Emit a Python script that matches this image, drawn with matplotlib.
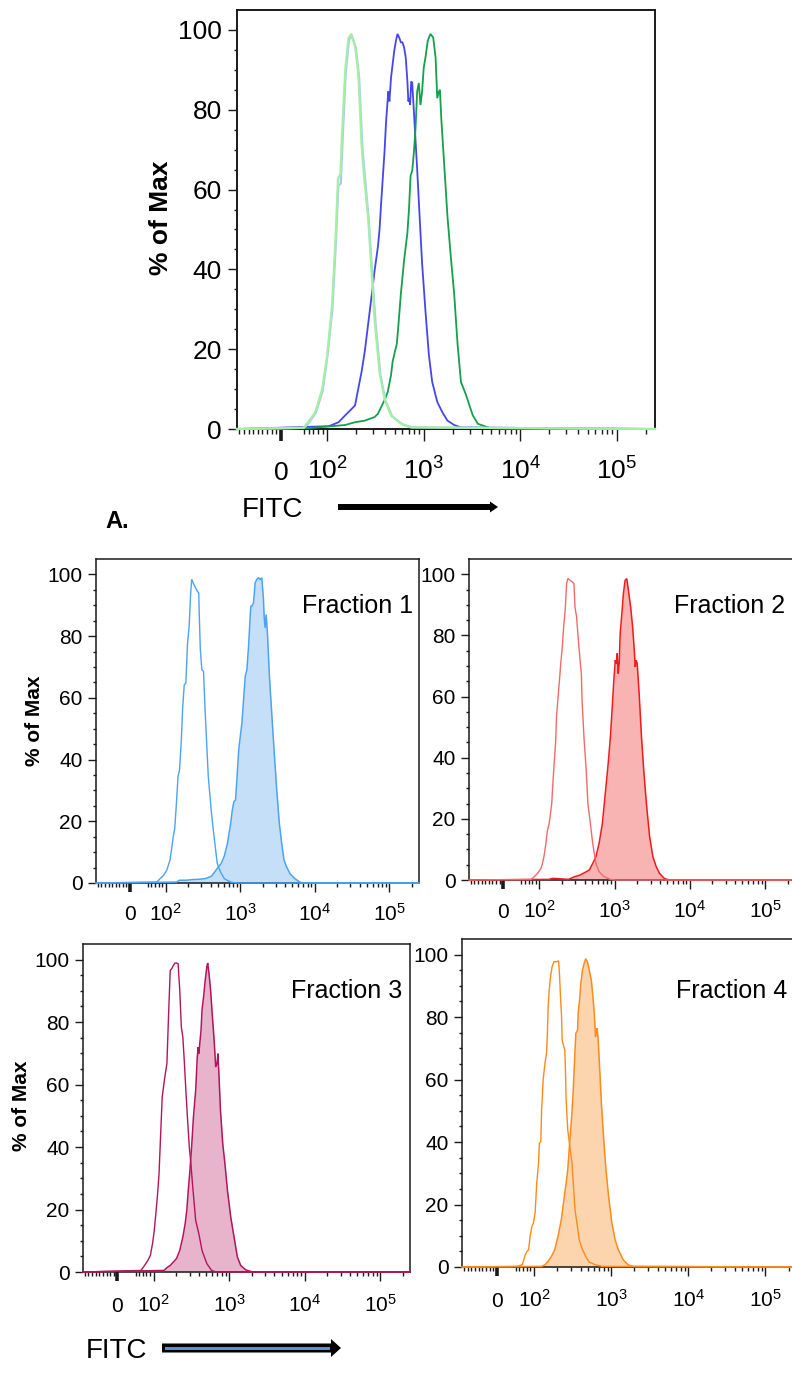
import numpy as np
import matplotlib
matplotlib.use("Agg")
import matplotlib.pyplot as plt
from matplotlib.patches import FancyArrow, Rectangle

W, H = 792, 1378
plt.rcParams["font.family"] = ["Liberation Sans", "DejaVu Sans"]
plt.rcParams["mathtext.default"] = "regular"

# ---------------------------------------------------------------- axis setup
XMIN, XMAX = -95, 2.5e5
X_MAJOR = [0, 1e2, 1e3, 1e4, 1e5]
X_LABELS = ["0", r"$10^2$", r"$10^3$", r"$10^4$", r"$10^5$"]
X_MINOR = ([-v for v in range(10, 100, 10)] + list(range(50, 100, 10))
           + [k * 10 ** e for e in (2, 3, 4) for k in range(2, 10)] + [2e5])
Y_MAJOR = [0, 20, 40, 60, 80, 100]
Y_MINOR = list(range(0, 105, 5))

# ---------------------------------------------------------------- data (FITC, % of Max)
# top panel
top_blue_x = [104, 131, 153, 180, 194, 210, 227, 245, 265, 287, 310, 335, 348, 362, 392, 407,
              424, 430, 441, 458, 476, 495, 515, 535, 557, 579, 602, 626, 651, 677, 693, 710,
              721, 743, 760, 791, 855, 910, 962, 1042, 1130, 1224, 1381, 1560, 1762, 2070, 2432]
top_blue_y = [0.7, 1.7, 3.4, 5.1, 5.9, 10.2, 14.4, 19.5, 26.2, 33, 39.8, 45.7, 49.9, 56.7, 69.4, 77,
              82.9, 84.6, 82.1, 88, 91.4, 94.8, 97.3, 99, 98.1, 96.9, 96.9, 95.6, 93.1, 87.1, 82.1, 82.9,
              81.2, 87.1, 86.7, 79.5, 65.1, 52.5, 41.5, 29.6, 18.6, 11.8, 6.8, 4.2, 2.1, 1.0, 0.4]

top_green_x = [59, 153, 194, 245, 310, 335, 362, 392, 424, 458, 476, 504, 525, 544, 579, 626,
               677, 703, 731, 760, 791, 822, 855, 889, 925, 962, 1000, 1042, 1101, 1175, 1254, 1327,
               1381, 1439, 1472, 1521, 1625, 1762, 1910, 2070, 2244, 2432, 2748, 2979, 3228, 3641,
               4645, 5035]
top_green_y = [0.2, 1.0, 1.7, 2.1, 3.0, 3.8, 5.5, 7.2, 9.3, 13.5, 16.9, 19.5, 21.2, 25.4, 33.8, 42.3,
               49.1, 55, 63.5, 64.7, 69.4, 75.3, 84.6, 86.7, 81.2, 84.6, 90.5, 93.1, 97.3, 99, 98.1, 93.1,
               82.9, 84.6, 85, 77.8, 66.8, 53.3, 43.1, 33.8, 21.2, 11.8, 8.5, 5.9, 3.4, 1.3,
               0.4, 0.2]

top_lblue_x = [50, 60, 75, 90, 100, 113, 123, 130, 138, 144, 155, 168, 180, 198, 214, 232, 248,
               270, 292, 318, 356, 400, 470, 600, 760]
top_lblue_y = [0.3, 1.5, 4.0, 9.5, 18, 30, 47, 61, 61.5, 72, 89, 97.5, 98.5, 95.5, 88, 70, 62,
               52, 39, 26, 13.5, 7.2, 3.2, 1.2, 0.4]

top_lgreen_x = [48, 59, 74, 89, 100, 112, 122, 129, 137, 142, 154, 166, 177, 194, 210, 227, 242,
                265, 287, 310, 349, 392, 458, 579, 731]
top_lgreen_y = [0.3, 1.7, 4.2, 10, 18.6, 31, 48, 62.6, 64, 73.6, 90.5, 98, 99, 96, 89, 71, 62.6,
                53, 40, 27, 14, 7.6, 3.4, 1.3, 0.4]

# Fraction 1
f1_open_x = [75, 84, 94, 103, 114, 119, 126, 132, 139, 146, 153, 161, 169, 177, 186, 196, 206, 216,
             223, 239, 264, 277, 282, 291, 305, 321, 337, 354, 372, 411, 445, 491, 542, 610, 743, 906]
f1_open_y = [0.3, 1.4, 2.5, 4.1, 7.4, 10.6, 15, 17.7, 25.8, 34.5, 36.6, 45.3, 57.2, 64.2, 64.8, 77.8,
             83.2, 94, 98.4, 96.7, 94.6, 94, 86.5, 75.6, 69.1, 68.6, 56.1, 45.3, 34.5, 22.5, 15, 6.3,
             3.6, 1.4, 0.3, 0]
f1_fill_x = [139, 153, 186, 227, 277, 337, 411, 454, 501, 553, 610, 673, 743, 781, 820, 863, 906,
             952, 1000, 1052, 1107, 1166, 1227, 1291, 1359, 1387, 1431, 1506, 1585, 1668, 1755, 1849,
             1945, 2046, 2089, 2153, 2223, 2312, 2460, 2642, 2838, 3083, 3342, 3597, 3864, 4188,
             4645, 5408, 6310, 6982]
f1_fill_y = [0.3, 0.9, 0.9, 1.1, 1.2, 1.4, 2.2, 3.6, 5.0, 6.3, 8.7, 12.8, 19.3, 23.6, 26.3, 26.9,
             34.5, 43.1, 47.5, 51.8, 59.4, 67, 69.1, 76.7, 86.5, 89.7, 89.7, 90.8, 97.3, 98.4, 98.9,
             98.4, 98.9, 91.9, 86.5, 82.7, 87, 81, 67, 55, 43.1, 30.1, 19.3, 12.8, 7.4, 5.2, 3.0,
             1.4, 0.3, 0]

# Fraction 2
f2_open_x = [77, 86, 95, 105, 110, 116, 122, 128, 135, 146, 151, 157, 164, 169, 177, 185, 192, 200,
             210, 220, 230, 239, 256, 274, 288, 297, 312, 327, 344, 361, 369, 391, 419, 441, 476, 511,
             564, 622, 721, 879, 1020]
f2_open_y = [0.2, 1.1, 2.2, 3.8, 5.4, 8.2, 12, 16.3, 18.5, 25.1, 31.6, 38.1, 44.7, 53.4, 59.9, 65.4,
             70.8, 75.2, 82.8, 88.2, 96.9, 98.6, 98, 97.5, 96.9, 89.3, 86.1, 79.5, 73, 67.5, 58.8,
             46.8, 35.9, 25.1, 18.5, 12, 5.4, 2.7, 1.1, 0.2, 0]
f2_fill_x = [135, 148, 164, 243, 297, 344, 399, 462, 511, 564, 622, 687, 759, 821, 879, 925, 970,
             1020, 1051, 1083, 1116, 1150, 1185, 1247, 1309, 1377, 1449, 1524, 1633, 1734, 1824, 1879,
             1936, 1995, 2118, 2275, 2438, 2642, 2917, 3228, 3565, 3945, 4581, 5321]
f2_fill_y = [0.2, 0.5, 0.5, 0.2, 1.1, 1.6, 2.4, 3.3, 5.4, 7.6, 12, 18.5, 29.4, 38.1, 46.8, 55.6,
             64.3, 71.9, 70.8, 74.1, 67.5, 70.8, 80.6, 87.1, 93.7, 98, 98.6, 94.8, 89.3, 82.8, 75.2,
             69.7, 71.9, 70.8, 61, 46.8, 35.9, 25.1, 14.2, 7.6, 4.4, 2.2, 0.5, 0]

# Fraction 3
f3_open_x = [65, 75, 84, 91, 97, 102, 107, 112, 118, 124, 130, 137, 143, 150, 158, 166, 174, 183,
             192, 201, 211, 222, 233, 244, 256, 269, 282, 297, 312, 327, 361, 397, 438, 507, 586, 678]
f3_open_y = [0.5, 2.1, 3.7, 5.3, 9.1, 13.3, 18.7, 24, 31.5, 44.3, 56, 60.3, 63.5, 66.7, 82.7, 96.6,
             97.1, 98.2, 98.9, 98.9, 98.7, 90.2, 78.4, 75.2, 66.7, 57.1, 48.6, 40, 34.7, 28.3, 16.5,
             12.3, 6.9, 2.7, 0.5, 0]
f3_fill_x = [137, 150, 166, 183, 201, 222, 244, 262, 275, 288, 303, 321, 337, 361, 379, 390, 397,
             409, 425, 438, 459, 483, 507, 521, 542, 569, 597, 634, 665, 692, 711, 733, 769, 824, 881,
             952, 1052, 1164, 1288, 1426, 1660, 2032]
f3_fill_y = [0.5, 1.4, 2.1, 3.2, 4.3, 6.9, 11.2, 15.5, 19.7, 26.1, 32.6, 41.1, 49.6, 58.2, 68.8, 72,
             69.9, 73.1, 77.4, 83.8, 88, 93.4, 97.7, 98.9, 95.5, 90.2, 82.7, 74.2, 65.6, 66.7, 69.9,
             63.5, 51.8, 41.1, 34.7, 26.1, 17.6, 11.2, 4.8, 2.1, 0.7, 0]

# Fraction 4
f4_open_x = [54, 68, 72, 76, 81, 85, 89, 94, 98, 103, 108, 114, 117, 122, 125, 129, 131, 138, 145,
             149, 152, 157, 163, 171, 181, 194, 208, 214, 220, 227, 231, 243, 250, 255, 260, 273, 287,
             310, 339, 359, 385, 424, 467, 515, 626, 760]
f4_open_y = [0.2, 0.7, 2.3, 3.9, 5, 5.5, 9.8, 13, 14.1, 17.3, 26.8, 33.2, 39.6, 40.1, 50.3, 56.7,
             59.9, 65.2, 68.4, 75.8, 83.3, 88.6, 92.9, 96.1, 97.7, 97.7, 98, 92.9, 86.5, 80.1, 72.6,
             70.5, 69.4, 63, 53.5, 43.9, 39.6, 33.2, 18.3, 14.1, 8.7, 5.5, 3.4, 1.6, 0.7, 0.2]
f4_fill_x = [125, 138, 152, 168, 185, 204, 225, 240, 260, 273, 287, 307, 322, 339, 348, 366, 373,
             392, 404, 424, 445, 467, 491, 515, 552, 579, 603, 626, 644, 658, 677, 703, 746, 800, 855,
             925, 1019, 1124, 1239, 1432, 1656, 1919]
f4_fill_y = [0.2, 0.7, 1.8, 3.4, 5.5, 9.8, 15.1, 20.4, 26.8, 31.1, 38.6, 48.1, 56.7, 69.4, 74.8,
             75.8, 81.2, 86.5, 90.7, 95, 97.1, 98.7, 97.7, 95.5, 91.8, 86.5, 81.2, 73.7, 75.8, 76.4,
             72.6, 65.2, 52.4, 40.7, 31.1, 22.6, 14.1, 8.7, 5.5, 2.3, 0.7, 0.2]


def px_rect(l, t, r, b):
    return [l / W, 1 - b / H, (r - l) / W, (b - t) / H]


def style_axes(ax, fs, xmaj, xmin_len, ymaj, ymin_len, xpad, ypad, spine_lw):
    ax.set_xscale("symlog", linthresh=100, linscale=0.432)
    ax.set_xlim(XMIN, XMAX)
    ax.set_ylim(0, 105)
    ax.set_xticks(X_MAJOR, X_LABELS)
    ax.set_xticks(X_MINOR, minor=True)
    ax.set_yticks(Y_MAJOR)
    ax.set_yticks(Y_MINOR, minor=True)
    ax.tick_params(which="both", direction="out", color="#1a1a1a", width=1.0,
                   labelsize=fs, labelcolor="black", top=False, right=False)
    ax.tick_params(axis="x", which="major", length=xmaj, pad=xpad)
    ax.tick_params(axis="x", which="minor", length=xmin_len)
    ax.tick_params(axis="y", which="major", length=ymaj, pad=ypad)
    ax.tick_params(axis="y", which="minor", length=ymin_len)
    for lab in ax.get_xticklabels():
        lab.set_verticalalignment("baseline")
    ax.xaxis.get_major_ticks()[0].tick1line.set_markeredgewidth(2.6)
    for sp in ax.spines.values():
        sp.set_linewidth(spine_lw)
        sp.set_color("#1a1a1a")


def draw_hist(ax, x, y, color, lw, fill=None):
    if fill is not None:
        ax.fill_between(x, y, 0, color=fill, lw=0, zorder=2)
    ax.plot(np.r_[XMIN, x, XMAX], np.r_[0, y, 0], color=color, lw=lw,
            zorder=3, clip_on=False, solid_joinstyle="miter")


fig = plt.figure(figsize=(W / 100, H / 100), dpi=100)

# ---------------------------------------------------------------- top panel
ax0 = fig.add_axes(px_rect(237, 10, 655, 429))
style_axes(ax0, 19, 8.6, 3.6, 6.5, 2.4, 28, 4.5, 1.4)
draw_hist(ax0, top_blue_x, top_blue_y, "#4646ee", 1.3)
draw_hist(ax0, top_green_x, top_green_y, "#14a04c", 1.3)
draw_hist(ax0, top_lblue_x, top_lblue_y, "#a9c9f2", 1.6)
draw_hist(ax0, top_lgreen_x, top_lgreen_y, "#a6eea6", 1.6)

# ---------------------------------------------------------------- fraction panels
panels = [
    (px_rect(96, 559, 419, 883), "Fraction 1", f1_open_x, f1_open_y, f1_fill_x, f1_fill_y,
     "#4ca3f4", "#4ca3f4", "#c6dff8", 0.981, 0.833, 20.5),
    (px_rect(469, 559, 795, 880), "Fraction 2", f2_open_x, f2_open_y, f2_fill_x, f2_fill_y,
     "#f36a6a", "#f21a1a", "#f8b3b3", 0.969, 0.832, 20.5),
    (px_rect(83, 944, 410, 1272), "Fraction 3", f3_open_x, f3_open_y, f3_fill_x, f3_fill_y,
     "#b3145f", "#b3145f", "#e7b4cb", 0.976, 0.835, 22.5),
    (px_rect(462, 939, 796, 1267), "Fraction 4", f4_open_x, f4_open_y, f4_fill_x, f4_fill_y,
     "#ff8a1c", "#ff8a1c", "#fcd5ae", 0.973, 0.820, 22.5),
]
for rect, name, ox, oy, fx, fy, c_open, c_fill, c_area, tx, ty, xpad in panels:
    ax = fig.add_axes(rect)
    style_axes(ax, 15, 6.5, 2.8, 5.8, 2.2, xpad, 4, 1.1)
    draw_hist(ax, fx, fy, c_fill, 1.1, fill=c_area)
    draw_hist(ax, ox, oy, c_open, 1.0)
    ax.text(tx, ty, name, transform=ax.transAxes, ha="right", va="baseline", fontsize=18)

# ---------------------------------------------------------------- labels, arrows
ov = fig.add_axes([0, 0, 1, 1], zorder=10)
ov.set_xlim(0, W)
ov.set_ylim(H, 0)
ov.axis("off")
ov.patch.set_alpha(0)

ov.text(161, 218, "% of Max", rotation=90, ha="center", va="center", fontsize=19, fontweight="bold")
ov.text(35, 721, "% of Max", rotation=90, ha="center", va="center", fontsize=15, fontweight="bold")
ov.text(22, 1106, "% of Max", rotation=90, ha="center", va="center", fontsize=15, fontweight="bold")

ov.text(242, 517, "FITC", ha="left", va="baseline", fontsize=20)
ov.text(86, 1358, "FITC", ha="left", va="baseline", fontsize=20)
ov.text(105, 528, "A.", ha="left", va="baseline", fontsize=17, fontweight="bold")

ov.add_patch(FancyArrow(338, 507, 160, 0, width=6, head_width=11, head_length=8,
                        length_includes_head=True, color="black", lw=0))
ov.add_patch(FancyArrow(162, 1348, 179, 0, width=9, head_width=18, head_length=10,
                        length_includes_head=True, color="black", lw=0))
ov.add_patch(Rectangle((165, 1346.5), 165, 3.2, color="#5d8fca", lw=0))

fig.savefig("out.png", dpi=100)
